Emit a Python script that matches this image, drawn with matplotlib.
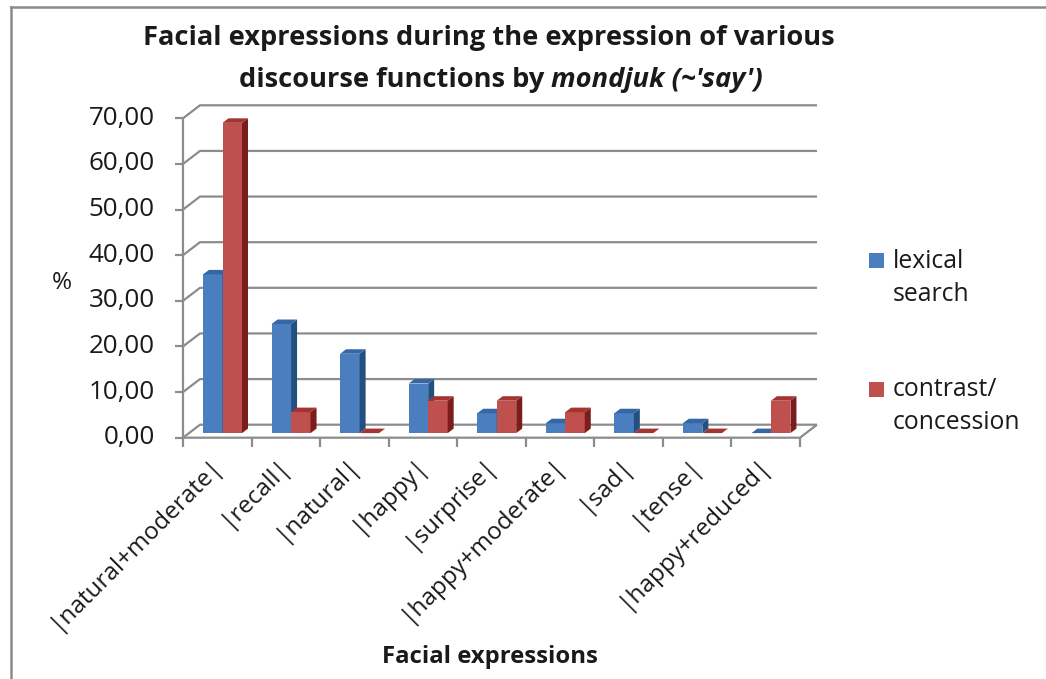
import matplotlib
matplotlib.use("Agg")
import matplotlib.pyplot as plt
from matplotlib.patches import Polygon, Rectangle
from matplotlib.lines import Line2D
from matplotlib.transforms import offset_copy

# ---- data -------------------------------------------------------------
categories = ["|natural+moderate|", "|recall|", "|natural|", "|happy|",
              "|surprise|", "|happy+moderate|", "|sad|", "|tense|",
              "|happy+reduced|"]
lexical_search = [34.78, 23.91, 17.39, 10.87, 4.35, 2.17, 4.35, 2.17, 0.00]
contrast_concession = [68.00, 4.60, 0.00, 7.10, 7.10, 4.60, 0.00, 0.00, 7.10]
series_labels = ["lexical\nsearch", "contrast/\nconcession"]
y_ticks = [0, 10, 20, 30, 40, 50, 60, 70]
y_tick_labels = [f"{v:.2f}".replace(".", ",") for v in y_ticks]

# ---- styling ----------------------------------------------------------
FONT = "Open Sans"
plt.rcParams["font.family"] = [FONT, "DejaVu Sans"]
GRID = "#8c8c8c"
TEXT = "#1a1a1a"
series_colors = [
    # front, side, top
    ("#4a7ebf", "#24507f", "#3567a6"),
    ("#c0504d", "#7a1d1b", "#a33431"),
]

W, H = 1046, 679
fig = plt.figure(figsize=(W / 100, H / 100), dpi=100)
renderer = fig.canvas.get_renderer()


def fit_size(text, width_px, **kw):
    """Font size (pt) at which `text` is `width_px` pixels wide."""
    t = fig.text(0, 0, text, fontsize=20, **kw)
    w = t.get_window_extent(renderer).width
    t.remove()
    return 20 * width_px / w


# plot box (pixels): front axis at x=183, floor front edge at y=437.7
px_left, px_right, px_top, px_bottom = 183.0, 818.0, 106.0, 437.7
ux = 617.0 / len(categories)          # pixels per category
uy = (437.7 - 118.3) / 70.0           # pixels per unit
ax = fig.add_axes([px_left / W, 1 - px_bottom / H,
                   (px_right - px_left) / W, (px_bottom - px_top) / H])
ax.set_xlim(0, (px_right - px_left) / ux)
ax.set_ylim(0, (px_bottom - px_top) / uy)
ax.axis("off")

n = len(categories)
BX, BY = 17.0 / ux, 13.0 / uy          # depth of the back wall
gkw = dict(color=GRID, lw=1.6, solid_capstyle="butt", clip_on=False, zorder=1)

# back-wall gridlines with their side-wall diagonals
for v in y_ticks:
    ax.add_line(Line2D([0, BX, n + BX], [v, v + BY, v + BY], **gkw))
# floor front edge and right edge
ax.add_line(Line2D([0, n, n + BX], [0, 0, BY], **gkw))
# front value axis
ax.add_line(Line2D([0, 0], [0, y_ticks[-1]], **gkw))
tick_len_x = 8.0 / ux
for v in y_ticks:
    ax.add_line(Line2D([-tick_len_x, 0], [v, v], **gkw))
tick_len_y = 9.0 / uy
for k in range(n + 1):
    ax.add_line(Line2D([k, k], [0, -tick_len_y], **gkw))

# value tick labels
tick_fs = fit_size("70,00", 66)
lab_tr = offset_copy(ax.transData, fig=fig, x=-28, y=0, units="dots")
for v, s in zip(y_ticks, y_tick_labels):
    ax.text(0, v, s, transform=lab_tr, ha="right", va="center",
            fontsize=tick_fs, color=TEXT)

# category labels
cat_tr = offset_copy(ax.transData, fig=fig, x=9, y=-15, units="dots")
for k, name in enumerate(categories):
    ax.text(k + 0.5, 0, name, transform=cat_tr, rotation=45, ha="right",
            va="top", fontsize=17.5, color=TEXT)

# 3-D style columns
bar_w = 19.5 / ux
bar_x0 = 20.0 / ux
base = 4.6 / uy
ddx, ddy = 6.0 / ux, 4.5 / uy


def column(x0, h, colors, z):
    front, side, top = colors
    y0, y1 = base, base + h
    x1 = x0 + bar_w
    if h > 0:
        ax.add_patch(Rectangle((x0, y0), bar_w, h, facecolor=front,
                               edgecolor="none", zorder=z, clip_on=False))
        ax.add_patch(Polygon([(x1, y0), (x1 + ddx, y0 + ddy),
                              (x1 + ddx, y1 + ddy), (x1, y1)],
                             closed=True, facecolor=side, edgecolor="none",
                             zorder=z, clip_on=False))
    ax.add_patch(Polygon([(x0, y1), (x1, y1), (x1 + ddx, y1 + ddy),
                          (x0 + ddx, y1 + ddy)], closed=True,
                         facecolor=top, edgecolor="none", zorder=z,
                         clip_on=False))


z = 3
for k in range(n):
    for s, vals in enumerate([lexical_search, contrast_concession]):
        column(k + bar_x0 + s * bar_w, vals[k], series_colors[s], z)
        z += 1

# axis titles
fig.text(62 / W, 1 - 283 / H, "%", ha="center", va="center", fontsize=17.5,
         color=TEXT)
xt_fs = fit_size("Facial expressions", 215, fontweight="bold")
fig.text(490 / W, 1 - 657 / H, "Facial expressions", ha="center",
         va="center", fontsize=xt_fs, fontweight="bold", color=TEXT)

# title (second line mixes upright and italic)
line1 = "Facial expressions during the expression of various"
title_fs = fit_size(line1, 692, fontweight="bold")
fig.text(489 / W, 1 - 38 / H, line1, ha="center", va="center",
         fontsize=title_fs, fontweight="bold", color=TEXT)
t_a = fig.text(0, 1 - 80 / H, "discourse functions by ", ha="left",
               va="center", fontsize=title_fs, fontweight="bold", color=TEXT)
t_b = fig.text(0, 1 - 80 / H, "mondjuk (~'say')", ha="left", va="center",
               fontsize=title_fs, fontweight="bold", style="italic",
               color=TEXT)
wa = t_a.get_window_extent(renderer).width
wb = t_b.get_window_extent(renderer).width
start = 501 - (wa + wb) / 2
t_a.set_x(start / W)
t_b.set_x((start + wa) / W)

# legend
leg_fs = fit_size("concession", 127)
for (sq_top, txt_y), lab, cols in zip([(253, 278), (382, 406)],
                                       series_labels, series_colors):
    fig.add_artist(Rectangle((869 / W, 1 - (sq_top + 15) / H), 15 / W,
                             15 / H, facecolor=cols[0], edgecolor="none",
                             transform=fig.transFigure))
    fig.text(893 / W, 1 - txt_y / H, lab, ha="left", va="center",
             fontsize=leg_fs, color=TEXT, linespacing=1.4)

# outer chart frame
fkw = dict(color="#8a8a8a", lw=1.8, transform=fig.transFigure)
fig.add_artist(Line2D([11 / W, 11 / W], [0, 1 - 7 / H], **fkw))
fig.add_artist(Line2D([11 / W, 1], [1 - 7 / H, 1 - 7 / H], **fkw))

fig.savefig("out.png", dpi=100, facecolor="white")
